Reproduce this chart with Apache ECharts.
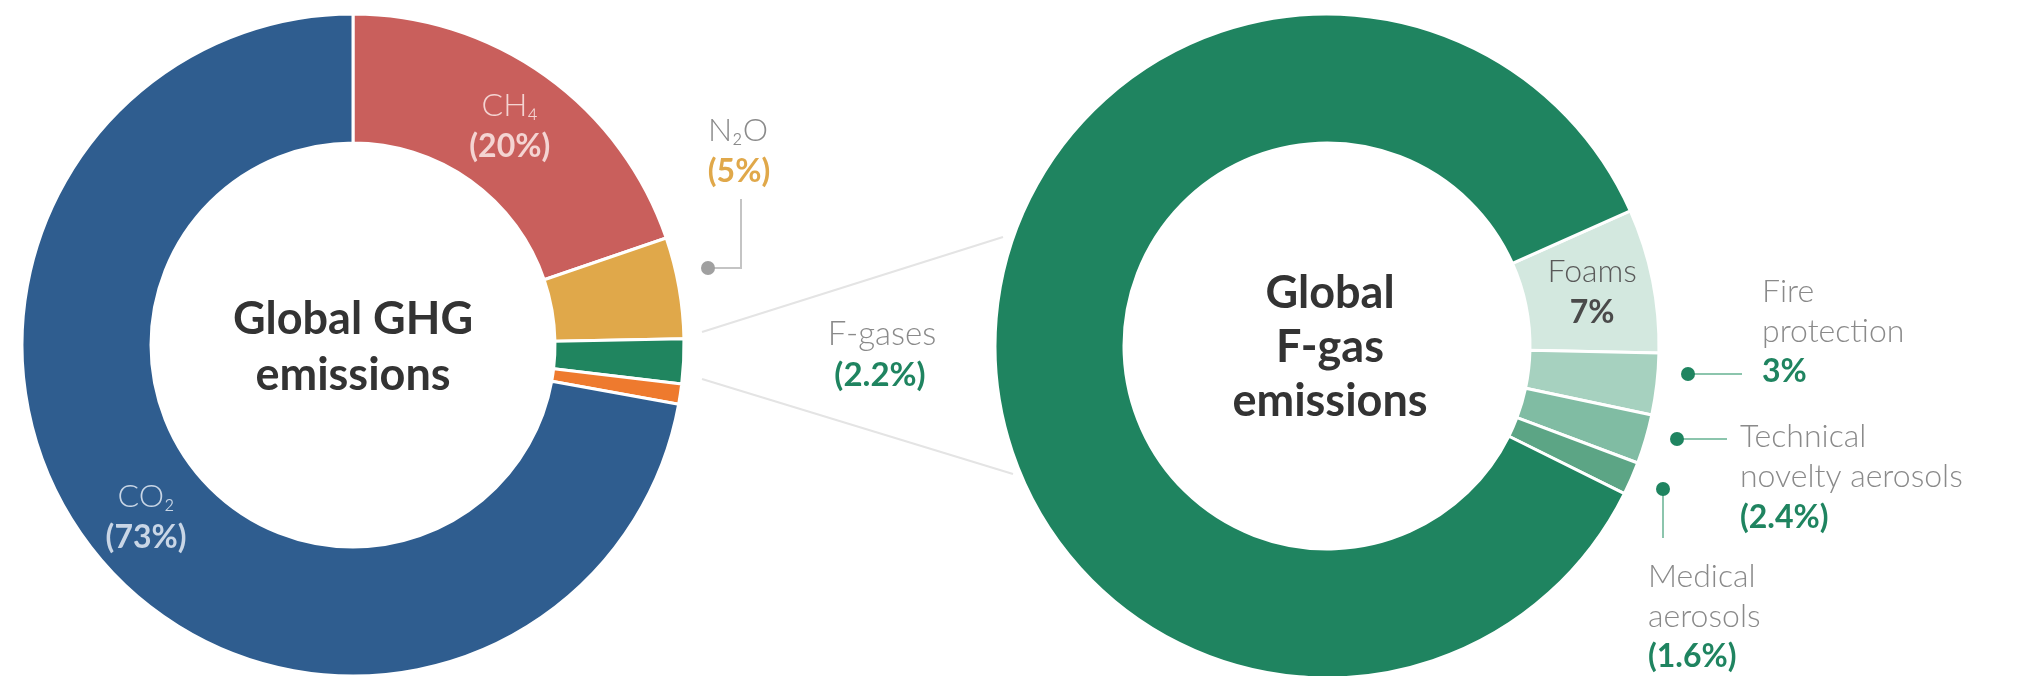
<!DOCTYPE html>
<html>
<head>
<meta charset="utf-8">
<script src="https://cdn.jsdelivr.net/npm/echarts@6/dist/echarts.min.js"></script>
<style>
  html, body { margin: 0; padding: 0; background: #fff; }
  #chart { width: 2019px; height: 676px; }
</style>
</head>
<body>
<div id="chart"></div>
<script>
// global greenhouse gas emissions
const ghgNames = ['CH₄', 'N₂O', 'F-gases', 'Other', 'CO₂'];
const ghgValues = [20, 5, 2.2, 1, 73];
const ghgShares = ['(20%)', '(5%)', '(2.2%)', '', '(73%)'];
const ghgColors = ['#c95f5c', '#e0a84a', '#20855f', '#ee7a2e', '#2f5d8f'];

// global f-gas emissions by sector
const fgasNames = ['Foams', 'Fire protection', 'Technical novelty aerosols', 'Medical aerosols',
  'Refrigeration, air-conditioning, and heat pumps'];
const fgasValues = [7, 3, 2.4, 1.6, 86];
const fgasShares = ['7%', '3%', '(2.4%)', '(1.6%)', '(86%)'];
const fgasColors = ['#d3e8df', '#a6d1bf', '#80bca3', '#5ca585', '#1f8460'];

const FONT = 'Lato, "Open Sans", sans-serif';
const GREEN = '#1f8460';
const GREY = '#8a8a8a';

const chart = echarts.init(document.getElementById('chart'));

// small helper for annotation text
function txt(x, y, text, fill, size, weight, align) {
  return {
    type: 'text', x: x, y: y, silent: true,
    style: {
      text: text, fill: fill,
      font: (weight || 'normal') + ' ' + size + 'px ' + FONT,
      textAlign: align || 'center', textVerticalAlign: 'middle'
    }
  };
}

function dot(x, y, r, fill) {
  return { type: 'circle', shape: { cx: x, cy: y, r: r }, style: { fill: fill }, silent: true };
}

function line(points, stroke) {
  return { type: 'polyline', shape: { points: points }, style: { stroke: stroke, lineWidth: 2, fill: null }, silent: true };
}

const insideRich = {
  n: { fontFamily: FONT, fontSize: 32, fontWeight: 300, lineHeight: 41 },
  b: { fontFamily: FONT, fontSize: 32, fontWeight: 'bold', lineHeight: 41 }
};

const ghgData = ghgNames.map((name, i) => {
  const item = { name: name, value: ghgValues[i], itemStyle: { color: ghgColors[i] }, label: { show: false } };
  if (i === 0 || i === 4) {
    const c = i === 0 ? '#f4d4d2' : '#c9d6e6';
    item.label = {
      show: true, position: 'inside',
      formatter: '{n|' + name + '}\n{b|' + ghgShares[i] + '}',
      rich: { n: Object.assign({ color: c }, insideRich.n), b: Object.assign({ color: c }, insideRich.b) }
    };
  }
  return item;
});

const fgasData = fgasNames.map((name, i) => {
  const item = { name: name, value: fgasValues[i], itemStyle: { color: fgasColors[i] }, label: { show: false } };
  if (i === 0) {
    item.label = {
      show: true, position: 'inside',
      formatter: '{n|' + name + '}\n{b|' + fgasShares[i] + '}',
      rich: { n: Object.assign({ color: '#5a5a5a' }, insideRich.n), b: Object.assign({ color: '#4a4a4a' }, insideRich.b) }
    };
  }
  return item;
});

const option = {
  backgroundColor: '#fff',
  animation: false,
  series: [
    {
      type: 'pie', center: [353, 345], radius: [202, 331], startAngle: 90,
      itemStyle: { borderColor: '#fff', borderWidth: 3 },
      labelLine: { show: false },
      data: ghgData
    },
    {
      type: 'pie', center: [1327, 346], radius: [203, 332], startAngle: 24,
      itemStyle: { borderColor: '#fff', borderWidth: 3 },
      labelLine: { show: false },
      data: fgasData
    }
  ],
  graphic: [
    // zoom lines between the two donuts
    line([[702, 332], [1003, 237]], '#e4e4e4'),
    line([[702, 379], [1013, 474]], '#e4e4e4'),

    // centre titles
    txt(353, 319, 'Global GHG', '#333', 45, 'bold'),
    txt(353, 375, 'emissions', '#333', 45, 'bold'),
    txt(1330, 293, 'Global', '#333', 45, 'bold'),
    txt(1330, 347, 'F-gas', '#333', 45, 'bold'),
    txt(1330, 401, 'emissions', '#333', 45, 'bold'),

    // N2O
    line([[708, 268], [741, 268], [741, 199]], '#c4c4c4'),
    dot(708, 268, 7, '#a0a0a0'),
    txt(738, 131, ghgNames[1], GREY, 32, 300),
    txt(739, 172, ghgShares[1], ghgColors[1], 32, 'bold'),

    // F-gases
    txt(882, 334, ghgNames[2], GREY, 33, 300),
    txt(880, 375, ghgShares[2], GREEN, 33, 'bold'),

    // refrigeration
    txt(1328, 573, 'Refrigeration, air-conditioning,', '#cbe5da', 32, 300),
    txt(1330, 610, 'and heat pumps', '#cbe5da', 32, 300),
    txt(1330, 647, fgasShares[4], '#cbe5da', 32, 'bold'),

    // fire protection
    line([[1688, 374], [1742, 374]], '#8cc5ad'),
    dot(1688, 374, 7, GREEN),
    txt(1762, 292, 'Fire', GREY, 32, 300, 'left'),
    txt(1762, 332, 'protection', GREY, 32, 300, 'left'),
    txt(1762, 372, fgasShares[1], GREEN, 32, 'bold', 'left'),

    // technical aerosols
    line([[1677, 439], [1727, 439]], '#8cc5ad'),
    dot(1677, 439, 7, GREEN),
    txt(1740, 437, 'Technical', GREY, 32, 300, 'left'),
    txt(1740, 477, 'novelty aerosols', GREY, 32, 300, 'left'),
    txt(1740, 518, fgasShares[2], GREEN, 32, 'bold', 'left'),

    // medical aerosols
    line([[1663, 489], [1663, 538]], '#8cc5ad'),
    dot(1663, 489, 7, GREEN),
    txt(1648, 577, 'Medical', GREY, 32, 300, 'left'),
    txt(1648, 617, 'aerosols', GREY, 32, 300, 'left'),
    txt(1648, 657, fgasShares[3], GREEN, 32, 'bold', 'left')
  ]
};

chart.setOption(option);
</script>
</body>
</html>
